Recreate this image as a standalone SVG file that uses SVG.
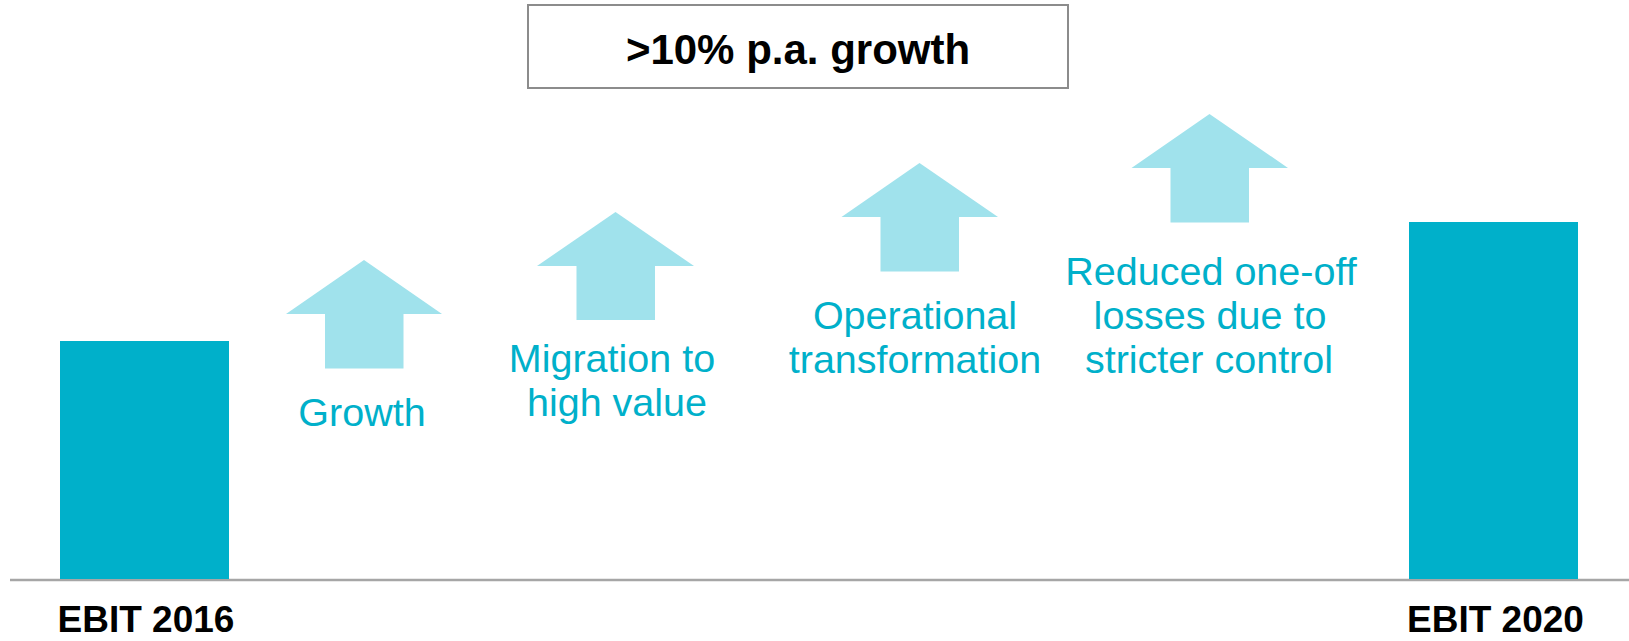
<svg xmlns="http://www.w3.org/2000/svg" width="1629" height="641" viewBox="0 0 1629 641">
<style>
.bar{fill:#00B0CA}
.arrow{fill:#A0E2EC}
.lbl{font-family:"Liberation Sans",Arial,sans-serif;font-size:39.5px;fill:#00B0CA;text-anchor:middle}
.ax{font-family:"Liberation Sans",Arial,sans-serif;font-size:37px;font-weight:bold;fill:#000;text-anchor:middle}
.title{font-family:"Liberation Sans",Arial,sans-serif;font-size:42px;font-weight:bold;fill:#000;text-anchor:middle}
</style>
<rect width="1629" height="641" fill="#fff"/>
<g id="title">
<rect x="528" y="5" width="540" height="83" fill="#fff" stroke="#8C8C8C" stroke-width="2"/>
<text class="title" x="798" y="64">&gt;10% p.a. growth</text>
</g>
<g id="axis">
<line x1="10" y1="580" x2="1629" y2="580" stroke="#A6A6A6" stroke-width="2.5"/>
</g>
<g id="ebit2016">
<rect class="bar" x="60" y="341" width="169" height="238"/>
<text class="ax" x="146" y="632">EBIT 2016</text>
</g>
<g id="growth">
<polygon class="arrow" points="364,260 442,314 403.5,314 403.5,368.5 325,368.5 325,314 286,314"/>
<text class="lbl" x="362" y="426">Growth</text>
</g>
<g id="migration">
<polygon class="arrow" points="615.5,212 694,266 655,266 655,320 576.5,320 576.5,266 537,266"/>
<text class="lbl" x="612" y="372">Migration to</text>
<text class="lbl" x="617" y="415.5">high value</text>
</g>
<g id="operational">
<polygon class="arrow" points="919.5,163 998,217 959,217 959,271.5 880.5,271.5 880.5,217 841.5,217"/>
<text class="lbl" x="915" y="328.5">Operational</text>
<text class="lbl" x="915" y="373">transformation</text>
</g>
<g id="reduced">
<polygon class="arrow" points="1209.5,114 1288,168 1249,168 1249,222.5 1170.5,222.5 1170.5,168 1131.5,168"/>
<text class="lbl" x="1211" y="284.5">Reduced one-off</text>
<text class="lbl" x="1210" y="328.5">losses due to</text>
<text class="lbl" x="1209" y="373">stricter control</text>
</g>
<g id="ebit2020">
<rect class="bar" x="1409" y="222" width="169" height="357"/>
<text class="ax" x="1495.5" y="632">EBIT 2020</text>
</g>
<g id="connectors"/>
</svg>
